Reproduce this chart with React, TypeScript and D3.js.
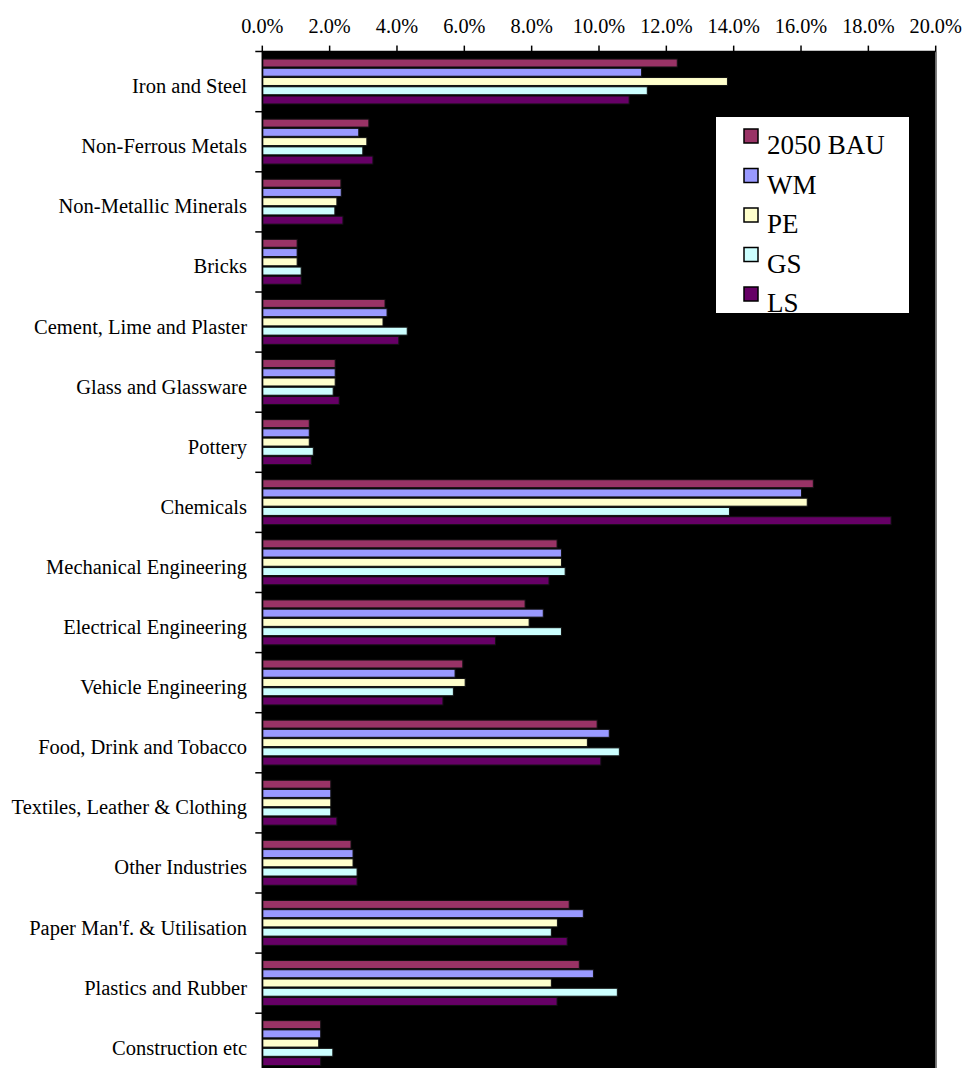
import React from "react";
import * as d3 from "d3";

const categories = [
  "Iron and Steel",
  "Non-Ferrous Metals",
  "Non-Metallic Minerals",
  "Bricks",
  "Cement, Lime and Plaster",
  "Glass and Glassware",
  "Pottery",
  "Chemicals",
  "Mechanical Engineering",
  "Electrical Engineering",
  "Vehicle Engineering",
  "Food, Drink and Tobacco",
  "Textiles, Leather & Clothing",
  "Other Industries",
  "Paper Man'f. & Utilisation",
  "Plastics and Rubber",
  "Construction etc",
];

const seriesNames = ["2050 BAU", "WM", "PE", "GS", "LS"];
const seriesColors = ["#993366", "#9999FF", "#FFFFCC", "#CCFFFF", "#660066"];

const bau = [12.31, 3.15, 2.32, 1.02, 3.63, 2.15, 1.38, 16.35, 8.74, 7.79, 5.94, 9.93, 2.02, 2.62, 9.1, 9.4, 1.72];
const wm = [11.25, 2.85, 2.33, 1.02, 3.69, 2.15, 1.38, 16.0, 8.87, 8.33, 5.71, 10.29, 2.02, 2.68, 9.52, 9.82, 1.72];
const pe = [13.8, 3.09, 2.2, 1.02, 3.57, 2.15, 1.38, 16.17, 8.87, 7.91, 6.01, 9.64, 2.02, 2.68, 8.75, 8.57, 1.66];
const gs = [11.42, 2.97, 2.14, 1.14, 4.29, 2.09, 1.5, 13.86, 8.98, 8.87, 5.66, 10.59, 2.02, 2.8, 8.57, 10.53, 2.08];
const ls = [10.88, 3.27, 2.38, 1.14, 4.04, 2.27, 1.44, 18.66, 8.5, 6.91, 5.35, 10.04, 2.2, 2.8, 9.04, 8.74, 1.72];

const seriesValues = [bau, wm, pe, gs, ls];
const xTicks = [0, 2, 4, 6, 8, 10, 12, 14, 16, 18, 20];

const W = 964;
const H = 1068;
const FONT = "'Liberation Serif', 'Times New Roman', serif";

export default function App() {
  const left = 262.3;
  const right = 935.7;
  const top = 51.6;
  const step = 60.1;
  const x = d3.scaleLinear().domain([0, 20]).range([left, right]);
  const y = d3
    .scaleBand<string>()
    .domain(categories)
    .range([top, top + step * categories.length])
    .paddingInner(0)
    .paddingOuter(0);
  const bw = y.bandwidth();
  const slot = bw / 6.5;
  const inner = d3
    .scaleBand<string>()
    .domain(seriesNames)
    .range([slot * 0.75, slot * 5.75]);

  const legendX = 716;
  const legendY = 117;

  return (
    <svg
      width={W}
      height={H}
      style={{ position: "absolute", left: 0, top: 0, background: "#fff" }}
      fontFamily={FONT}
    >
      {/* plot area */}
      <rect x={left} y={top} width={right - left} height={H - top + 20} fill="#000" />
      <line x1={right + 0.5} x2={right + 0.5} y1={top} y2={H} stroke="#808080" strokeWidth={1.6} />

      {/* bars */}
      {categories.map((c, ci) => (
        <g key={c}>
          {seriesNames.map((s, si) => {
            const v = seriesValues[si][ci];
            const yy = (y(c) as number) + (inner(s) as number);
            return (
              <rect
                key={s}
                x={x(0) + 0.5}
                y={yy + 0.5}
                width={x(v) - x(0)}
                height={slot - 1.3}
                fill={seriesColors[si]}
                stroke="#111"
                strokeWidth={1}
              />
            );
          })}
        </g>
      ))}

      {/* top axis */}
      <line x1={left - 7} x2={right} y1={top} y2={top} stroke="#000" strokeWidth={1.5} />
      {xTicks.map((t) => (
        <g key={t}>
          <line x1={x(t)} x2={x(t)} y1={top - 6} y2={top} stroke="#000" strokeWidth={1.5} />
          <text x={x(t)} y={33.3} fontSize={20.3} textAnchor="middle" fill="#000">
            {t.toFixed(1) + "%"}
          </text>
        </g>
      ))}

      {/* left axis */}
      <line x1={left} x2={left} y1={top} y2={H} stroke="#000" strokeWidth={1.5} />
      {categories.map((c, i) => (
        <g key={c}>
          <line
            x1={left - 7}
            x2={left}
            y1={(y(c) as number) + bw}
            y2={(y(c) as number) + bw}
            stroke="#000"
            strokeWidth={1.5}
          />
          <text
            x={247}
            y={(y(c) as number) + bw / 2 + 11.5}
            fontSize={20.5}
            textAnchor="end"
            fill="#000"
          >
            {c}
          </text>
        </g>
      ))}

      {/* legend */}
      <rect x={legendX} y={legendY} width={193} height={196} fill="#fff" />
      {seriesNames.map((s, i) => (
        <g key={s}>
          <rect
            x={744}
            y={129 + 39.5 * i}
            width={14}
            height={14}
            fill={seriesColors[i]}
            stroke="#000"
            strokeWidth={1.5}
          />
          <text x={767} y={154 + 39.5 * i} fontSize={27} fill="#000">
            {s}
          </text>
        </g>
      ))}
    </svg>
  );
}
